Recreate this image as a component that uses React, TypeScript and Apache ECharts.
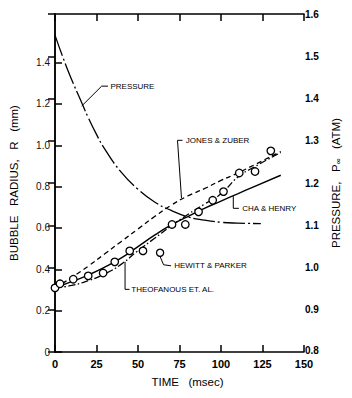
import React, { useEffect, useRef } from "react";
import * as echarts from "echarts";

// ---- data ----
const timeTicks = [0, 25, 50, 75, 100, 125, 150];
const radiusTicks = [0, 0.2, 0.4, 0.6, 0.8, 1.0, 1.2, 1.4];
const pressureTicks = [0.8, 0.9, 1.0, 1.1, 1.2, 1.3, 1.4, 1.5, 1.6];

const hewittParker: [number, number][] = [
  [0, 0.31], [3, 0.33], [11, 0.352], [20, 0.368], [29, 0.382], [36, 0.436],
  [45, 0.489], [53, 0.489], [70.5, 0.617], [78.5, 0.617], [86.5, 0.678],
  [95, 0.734], [101.5, 0.776], [111, 0.866], [120.5, 0.873], [130, 0.973],
];
const jonesZuber: [number, number][] = [
  [0, 0.31], [10, 0.36], [20, 0.415], [30, 0.475], [40, 0.535], [50, 0.595],
  [60, 0.655], [70, 0.71], [80, 0.755], [90, 0.79], [100, 0.83], [110, 0.865],
  [120, 0.905], [136, 0.97],
];
const chaHenry: [number, number][] = [
  [0, 0.31], [10, 0.34], [20, 0.372], [30, 0.41], [40, 0.455], [50, 0.51],
  [60, 0.565], [70, 0.615], [80, 0.655], [90, 0.695], [100, 0.73], [110, 0.765],
  [120, 0.8], [136, 0.855],
];
const theofanous: [number, number][] = [
  [0, 0.31], [10, 0.322], [20, 0.345], [30, 0.378], [40, 0.425], [50, 0.49],
  [60, 0.55], [70, 0.61], [80, 0.665], [90, 0.715], [100, 0.765], [110, 0.845],
  [120, 0.895], [136, 0.965],
];
const pressure: [number, number][] = [
  [0, 1.55], [5, 1.495], [10, 1.445], [15, 1.4], [20, 1.355], [25, 1.315],
  [30, 1.28], [40, 1.225], [50, 1.185], [60, 1.155], [70, 1.135], [80, 1.12],
  [90, 1.112], [100, 1.107], [110, 1.105], [124, 1.104],
];

// annotation anchors in (time, radius) data units
const annotations: { text: string; leader: [number, number][]; at: [number, number]; marker?: [number, number] }[] = [
  { text: "PRESSURE", leader: [[16.1, 1.19], [28.1, 1.286], [31.9, 1.286]], at: [33.4, 1.286] },
  { text: "JONES & ZUBER", leader: [[76.8, 1.024], [73.8, 1.024], [76.2, 0.744]], at: [78.8, 1.024] },
  { text: "CHA & HENRY", leader: [[107.4, 0.754], [107.4, 0.695], [110.8, 0.695]], at: [112.8, 0.695] },
  { text: "HEWITT & PARKER", leader: [[63.3, 0.462], [65.4, 0.422], [69.9, 0.417]], at: [71.8, 0.417], marker: [63.3, 0.48] },
  { text: "THEOFANOUS ET. AL.", leader: [[42.2, 0.436], [42.2, 0.303], [44.9, 0.303]], at: [46.0, 0.303] },
];

const FONT = "Arial, 'Liberation Sans', Helvetica, sans-serif";

export default function App() {
  const ref = useRef<HTMLDivElement>(null);

  useEffect(() => {
    if (!ref.current) return;
    const chart = echarts.init(ref.current, undefined, { renderer: "svg" });
    const axisLine = { show: true, lineStyle: { color: "#000", width: 1.5 } };
    const tick = { show: true, inside: true, length: 7, lineStyle: { color: "#000", width: 1.5 } };

    chart.setOption({
      animation: false,
      backgroundColor: "#fff",
      grid: { left: 55, right: 48, top: 14, bottom: 46, containLabel: false },
      xAxis: [
        {
          type: "value", min: 0, max: 150, interval: 25, position: "bottom",
          axisLine, axisTick: tick, splitLine: { show: false },
          axisLabel: { color: "#000", fontFamily: FONT, fontWeight: "bold", fontSize: 11, lineHeight: 11, margin: 6,
            customValues: timeTicks },
          name: "TIME   (msec)", nameLocation: "middle", nameGap: 24,
          nameTextStyle: { color: "#000", fontFamily: FONT, fontSize: 11.5, padding: [0, 0, 0, 16] },
        },
        {
          type: "value", min: 0, max: 150, interval: 25, position: "top",
          axisLine, axisTick: tick, axisLabel: { show: false }, splitLine: { show: false },
        },
      ],
      yAxis: [
        {
          type: "value", min: 0, max: 1.635, position: "left",
          axisLine, splitLine: { show: false },
          axisTick: { ...tick, customValues: radiusTicks },
          axisLabel: { color: "#111", fontFamily: FONT, fontSize: 10, margin: 5, customValues: radiusTicks,
            formatter: (v: number) => (v === 0 ? "0" : v.toFixed(1)) },
          name: "BUBBLE   RADIUS,   R   (mm)", nameLocation: "middle", nameGap: 35, nameRotate: 90,
          nameTextStyle: { color: "#000", fontFamily: FONT, fontSize: 11.5 },
        },
        {
          type: "value", min: 0.8, max: 1.6, interval: 0.1, position: "right",
          axisLine, splitLine: { show: false }, axisTick: tick,
          axisLabel: { color: "#000", fontFamily: FONT, fontWeight: "bold", fontSize: 10, lineHeight: 9, margin: 1,
            customValues: pressureTicks,
            formatter: (v: number) => (Math.abs(v - 0.8) < 1e-6 ? "{low|" + v.toFixed(1) + "}" : v.toFixed(1)),
            rich: { low: { fontFamily: FONT, fontWeight: "bold", fontSize: 10, lineHeight: 9, color: "#000", padding: [0, 0, 3, 0] } } },
          name: "PRESSURE,   P{sub|∞}   (ATM)", nameLocation: "middle", nameGap: 20, nameRotate: 90,
          nameTextStyle: { color: "#000", fontFamily: FONT, fontSize: 11.5,
            rich: { sub: { fontSize: 8, verticalAlign: "bottom", padding: [6, 0, 0, 0], fontFamily: FONT, color: "#000" } } },
        },
      ],
      series: [
        { name: "Jones & Zuber", type: "line", data: jonesZuber, smooth: true, showSymbol: false, xAxisIndex: 0, yAxisIndex: 0,
          lineStyle: { color: "#000", width: 1.3, type: [5, 3.5] } },
        { name: "Cha & Henry", type: "line", data: chaHenry, smooth: true, showSymbol: false, xAxisIndex: 0, yAxisIndex: 0,
          lineStyle: { color: "#000", width: 1.4, type: "solid" } },
        { name: "Theofanous et al.", type: "line", data: theofanous, smooth: true, showSymbol: false, xAxisIndex: 0, yAxisIndex: 0,
          lineStyle: { color: "#000", width: 1.3, type: [7, 2.5, 1.5, 2.5] } },
        { name: "Pressure", type: "line", data: pressure, smooth: true, showSymbol: false, xAxisIndex: 0, yAxisIndex: 1,
          lineStyle: { color: "#000", width: 1.3, type: [22, 3, 2, 3] } },
        { name: "Hewitt & Parker", type: "scatter", data: hewittParker, xAxisIndex: 0, yAxisIndex: 0, symbol: "circle", symbolSize: 7.5, z: 5,
          itemStyle: { color: "#fff", borderColor: "#000", borderWidth: 1.3, opacity: 1 } },
      ],
    });

    const toPx = (p: [number, number]) => chart.convertToPixel({ xAxisIndex: 0, yAxisIndex: 0 }, p) as number[];
    const graphic: any[] = [];
    annotations.forEach((a) => {
      graphic.push({
        type: "polyline", shape: { points: a.leader.map((p) => toPx(p)) },
        style: { stroke: "#000", lineWidth: 1, fill: null }, z: 10,
      });
      const [tx, ty] = toPx(a.at);
      graphic.push({
        type: "text", x: tx, y: ty, z: 10,
        style: { text: a.text, fill: "#000", fontSize: 8, fontFamily: FONT, align: "left", verticalAlign: "middle",
          textAlign: "left", textVerticalAlign: "middle" },
      });
      if (a.marker) {
        const [mx, my] = toPx(a.marker);
        graphic.push({
          type: "circle", shape: { cx: mx, cy: my, r: 3.6 }, z: 11,
          style: { fill: "#fff", stroke: "#000", lineWidth: 1.3 },
        });
      }
    });
    chart.setOption({ graphic });

    return () => chart.dispose();
  }, []);

  return <div ref={ref} style={{ position: "fixed", left: 0, top: 0, width: 352, height: 398, background: "#fff" }} />;
}
